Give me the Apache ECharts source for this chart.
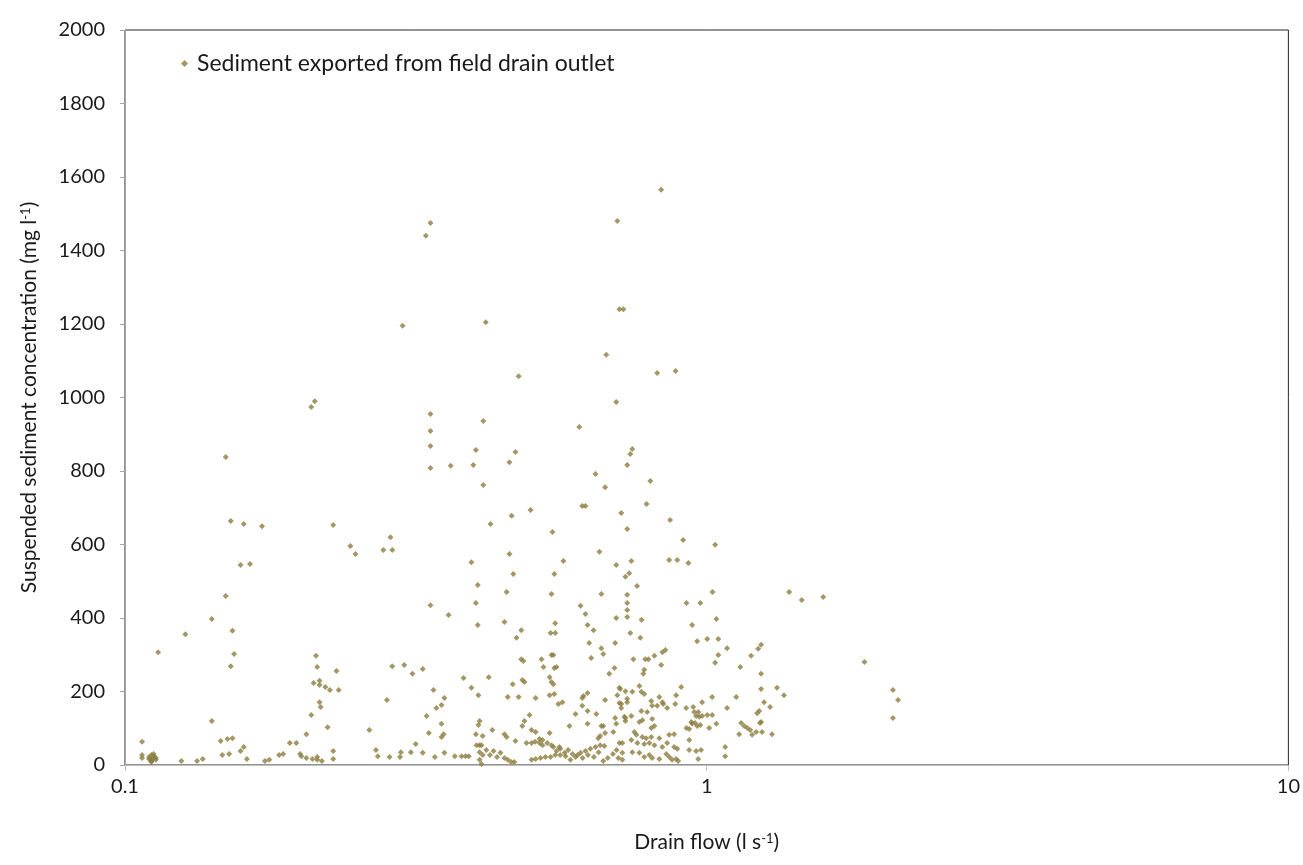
<!DOCTYPE html>
<html><head><meta charset="utf-8">
<script src="https://cdn.jsdelivr.net/npm/echarts@6/dist/echarts.min.js"></script>
<style>html,body{margin:0;padding:0;background:#fff}#c{width:1303px;height:865px}</style>
</head><body><div id="c"></div>
<script>
// Drain flow (l s-1)
const flow = [
  0.335,0.329,0.300,0.417,0.835,0.702,0.708,0.719,0.672,0.822,0.884,
  0.745,0.739,0.730,0.800,0.788,0.713,0.865,0.730,0.911,1.034,0.742,0.862,0.890,0.930,
  0.475,0.699,0.335,0.335,0.335,0.335,0.413,0.604,0.363,0.397,0.401,0.458,0.469,0.413,0.644,0.669,0.611,0.619,0.498,0.462,0.425,0.543,0.286,0.278,0.288,0.394,0.458,0.567,0.654,0.699,
  0.212,0.209,0.149,0.152,0.160,0.172,0.228,0.244,0.249,0.158,0.164,
  0.149,0.141,0.127,0.153,0.114,0.154,0.152,0.213,0.214,0.231,0.211,0.216,0.216,0.221,0.225,0.233,
  0.216,0.217,0.209,0.223,0.205,0.141,0.107,0.146,0.150,0.153,0.160,0.158,0.263,0.270,0.272,
  0.107,0.107,0.110,0.110,0.111,0.111,0.112,0.112,0.111,0.113,0.112,0.111,0.113,
  0.125,0.133,0.136,0.147,0.151,0.162,0.174,0.177,0.184,0.187,0.192,0.197,0.200,0.201,0.205,0.210,0.214,0.214,0.218,0.228,0.228,
  0.725,0.736,0.465,0.547,0.404,0.453,0.541,0.659,0.335,0.401,0.360,0.607,0.619,0.730,0.730,0.730,0.730,0.699,
  0.404,0.449,0.480,0.549,0.539,0.549,0.624,0.639,0.471,0.696,0.628,0.659,0.664,0.633,0.480,0.484,0.520,0.541,0.545,0.524,0.547,0.552,0.694,0.680,
  0.288,0.302,0.312,0.325,0.382,0.422,0.394,0.405,0.339,0.354,0.350,0.343,0.464,0.482,0.486,0.537,0.541,0.545,
  0.455,0.475,0.508,0.537,0.547,0.556,0.565,0.614,0.611,0.624,0.611,0.624,0.669,0.702,0.710,0.725,0.713,0.713,0.730,
  0.646,0.595,0.696,0.725,0.496,0.482,0.486,0.581,0.624,0.699,0.330,0.350,0.353,0.350,0.333,0.407,0.405,0.401,0.412,0.428,0.449,0.453,0.469,
  0.500,0.508,0.537,0.516,0.522,0.659,0.664,0.691,0.656,0.651,0.669,0.282,0.316,
  0.285,0.298,0.297,0.310,0.325,0.341,0.354,0.369,0.379,0.385,0.390,0.402,0.407,0.410,
  0.407,0.412,0.418,0.424,0.430,0.436,0.442,0.449,0.455,0.461,0.467,0.407,0.410,
  0.490,0.500,0.507,0.516,0.522,0.532,0.541,0.558,
  0.500,0.508,0.518,0.528,0.539,0.549,0.560,0.572,0.583,0.595,0.607,0.619,0.631,0.644,0.656,0.667,
  0.545,0.552,0.560,0.570,0.578,0.588,0.600,0.612,0.625,0.640,0.652,0.664,0.676,0.690,0.700,0.705,
  0.759,1.023,1.386,1.457,1.586,0.773,0.923,0.975,1.039,0.944,0.739,0.769,0.963,1.002,1.047,1.084,1.226,1.240,1.192,1.047,1.034,1.142,
  0.748,0.784,0.794,0.813,0.839,0.849,0.835,0.781,0.778,1.240,0.708,0.745,0.766,0.772,0.781,0.904,0.886,0.708,0.730,
  0.803,0.806,0.829,0.839,0.842,0.822,0.855,0.883,0.922,0.948,0.982,1.022,1.124,1.084,1.240,1.321,1.358,1.255,1.285,1.221,1.231,
  1.240,1.235,1.146,1.160,1.174,1.188,1.197,1.216,1.245,1.295,1.137,1.039,1.010,
  0.952,0.967,0.959,0.971,0.982,1.002,1.022,0.941,0.944,0.955,0.963,0.975,0.923,0.933,
  0.722,0.742,0.725,0.772,0.790,0.775,0.766,0.806,0.813,0.803,0.862,0.879,
  0.751,0.757,0.775,0.787,0.803,0.829,0.716,0.708,0.742,0.760,0.781,0.797,0.813,0.839,0.855,0.879,0.890,
  0.745,0.766,0.781,0.797,0.806,0.829,0.852,0.862,0.872,0.886,0.893,0.933,0.933,0.959,0.978,0.967,1.076,1.076,0.716,0.716,
  1.867,2.090,2.133,2.090
];
// Suspended sediment concentration (mg l-1)
const conc = [
  1475,1440,1195,1205,1565,1480,1240,1240,1116,1067,1072,
  860,846,816,773,710,686,667,642,612,599,555,558,558,550,
  1058,988,955,909,868,808,936,920,814,816,857,824,852,762,792,756,705,705,694,678,656,634,620,585,585,552,574,555,580,544,
  990,974,838,664,656,650,653,596,574,544,547,
  460,397,356,365,307,302,269,297,267,256,223,229,218,212,204,204,
  171,158,136,103,84,120,63,65,71,73,49,38,95,41,24,
  27,19,22,16,27,11,19,24,8,14,30,13,20,
  11,11,16,27,30,16,11,14,27,30,60,60,30,24,19,16,22,14,11,38,16,
  512,522,520,520,490,471,465,465,435,441,408,433,411,463,441,422,403,400,
  381,389,367,386,359,359,381,367,346,332,332,318,302,291,288,283,288,299,299,267,264,267,264,248,
  269,272,248,261,237,239,210,190,204,182,163,155,220,231,226,239,226,220,
  185,185,182,190,193,166,171,188,182,196,161,147,177,190,207,201,166,155,171,
  139,139,128,128,136,106,120,106,112,112,133,112,84,76,87,120,109,84,79,95,84,76,65,
  95,90,87,71,68,106,106,90,79,73,87,177,57,
  22,35,22,35,33,22,33,24,24,24,24,54,54,54,
  35,27,41,27,38,22,33,19,14,8,8,14,3,
  60,60,63,60,54,60,54,49,
  14,16,19,22,22,27,27,24,14,22,33,38,44,49,54,52,
  49,38,44,33,41,30,27,19,27,22,35,11,19,30,41,19,
  487,471,471,449,457,395,441,441,397,381,359,346,337,343,343,318,316,327,297,299,278,267,
  288,288,288,297,307,313,272,259,248,248,210,199,215,199,193,212,190,169,180,
  174,161,185,171,166,161,155,166,155,158,171,185,185,155,207,210,190,171,158,141,147,
  117,114,114,106,101,95,82,90,90,84,84,112,101,
  144,144,133,131,133,136,136,117,112,114,106,109,101,98,
  131,133,120,147,144,122,117,125,106,101,82,84,
  90,82,76,73,76,73,60,60,68,60,57,60,54,49,60,49,44,
  35,33,22,27,19,16,30,22,14,16,11,68,41,38,41,16,49,24,33,14,
  280,204,177,128
];
const seriesName = 'Sediment exported from field drain outlet';
const xMin = 0.1, xMax = 10;
const yMin = 0, yMax = 2000, yStep = 200;

const points = flow.map((f, i) => [f, conc[i]]);
const FONT = 'Lato';
const TXT = '#1a1a1a';
const supStyle = { fontSize: 13, verticalAlign: 'top', fontFamily: FONT, color: TXT };

const chart = echarts.init(document.getElementById('c'));
chart.setOption({
  animation: false,
  backgroundColor: '#ffffff',
  textStyle: { fontFamily: FONT },
  grid: { left: 125, right: 13, top: 30, bottom: 100, show: true, borderColor: '#262626', borderWidth: 1 },
  legend: {
    data: [seriesName], left: 176, top: 47, icon: 'diamond', itemWidth: 7, itemHeight: 7, itemGap: 6,
    textStyle: { fontFamily: FONT, fontSize: 23, color: TXT, padding: [0, 0, 0, 4] }
  },
  xAxis: {
    type: 'log', logBase: 10, min: xMin, max: xMax,
    name: 'Drain flow (l s{sup|-1})', nameLocation: 'middle', nameGap: 67,
    nameTextStyle: { fontFamily: FONT, fontSize: 21, color: TXT, rich: { sup: supStyle } },
    axisLine: { lineStyle: { color: '#BFBFBF', width: 1 } },
    axisTick: { show: true, length: 6, lineStyle: { color: '#BFBFBF' } },
    minorTick: { show: false },
    splitLine: { show: false },
    axisLabel: { fontFamily: FONT, fontSize: 20, color: TXT, margin: 12, formatter: v => String(+(+v).toPrecision(3)) }
  },
  yAxis: {
    type: 'value', min: yMin, max: yMax, interval: yStep,
    name: 'Suspended sediment concentration (mg l{sup|-1})', nameLocation: 'middle', nameGap: 85,
    nameTextStyle: { fontFamily: FONT, fontSize: 21, color: TXT, rich: { sup: supStyle } },
    axisLine: { show: true, lineStyle: { color: '#A6A6A6', width: 1 } },
    axisTick: { show: true, length: 5, lineStyle: { color: '#A6A6A6' } },
    splitLine: { show: false },
    axisLabel: { fontFamily: FONT, fontSize: 20, color: TXT, margin: 20, formatter: v => String(v) }
  },
  series: [{
    name: seriesName, type: 'scatter', data: points,
    symbol: 'diamond', symbolSize: 6,
    itemStyle: { color: '#8C7D3F' }
  }]
});
</script>
</body></html>
